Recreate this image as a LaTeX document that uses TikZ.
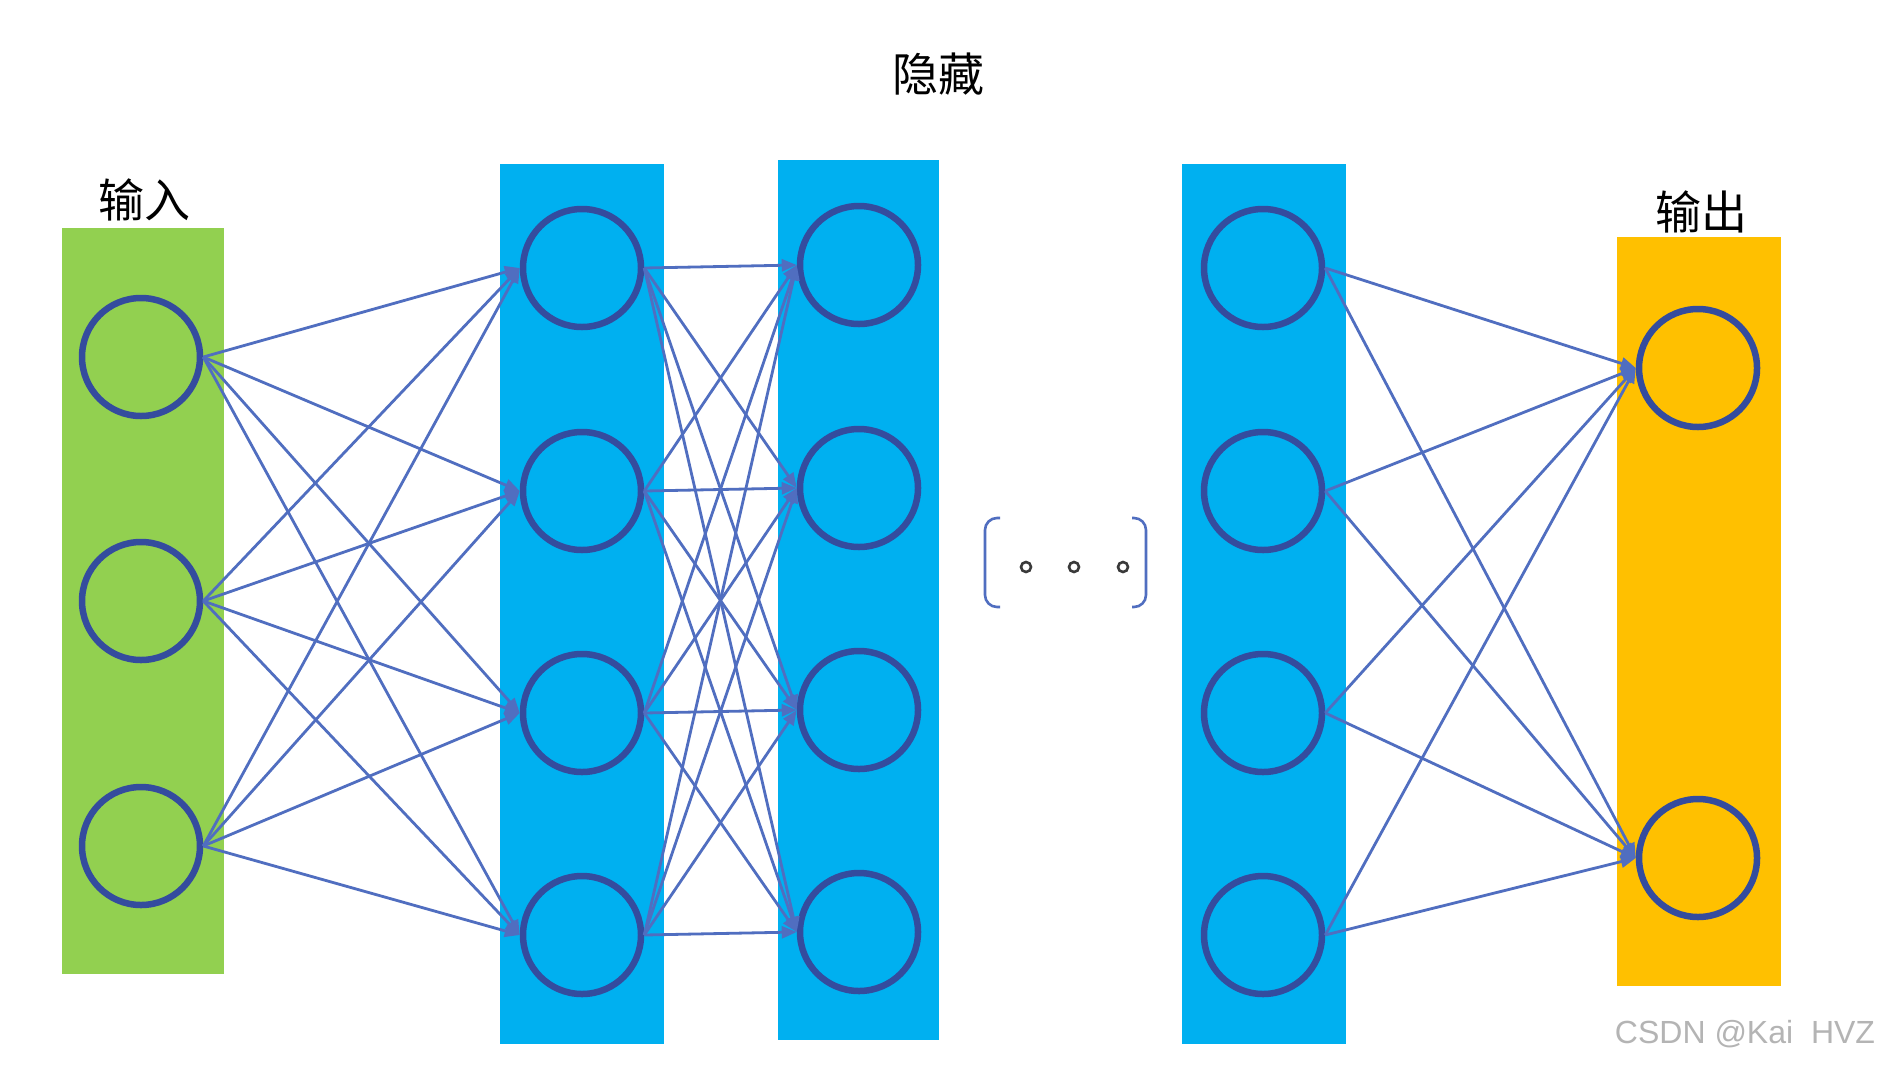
\documentclass[tikz,border=0pt]{standalone}
\usepackage{fontspec}
\setmainfont{Liberation Sans}
\newfontfamily\cjk{Noto Sans CJK SC}
\usetikzlibrary{arrows.meta}
\definecolor{ingreen}{HTML}{92D050}
\definecolor{hidblue}{HTML}{00B0F0}
\definecolor{outorange}{HTML}{FFC000}
\definecolor{ringc}{HTML}{344C9E}
\definecolor{edgec}{HTML}{506EC0}
\definecolor{dotc}{HTML}{3A3A3A}
\definecolor{markc}{HTML}{B4B4B4}
\begin{document}
\begin{tikzpicture}[x=1pt,y=-1pt,
  column/.style={rectangle, draw=none, inner sep=0pt, minimum width=#1},
  neuron/.style={circle, draw=ringc, line width=6.5pt, minimum size=118pt, inner sep=0pt},
  conn/.style={draw=edgec, line width=2.8pt, -{Triangle[length=15pt,width=12pt]}},
  title/.style={font=\cjk\fontsize{46}{50}\selectfont, text=black, inner sep=0pt},
  smalldot/.style={circle, draw=dotc, line width=2.6pt, minimum size=10pt, inner sep=0pt},
  bracketc/.style={draw=edgec, line width=2.6pt, rounded corners=12pt}
]
\useasboundingbox (0,0) rectangle (1886,1066);
\fill[white] (0,0) rectangle (1886,1066);

% columns
\node[column=162pt, minimum height=746pt, fill=ingreen] (colin) at (143,601) {};
\node[column=164pt, minimum height=880pt, fill=hidblue] (colh1) at (582,604) {};
\node[column=161pt, minimum height=880pt, fill=hidblue] (colh2) at (858.5,600) {};
\node[column=164pt, minimum height=880pt, fill=hidblue] (colh3) at (1264,604) {};
\node[column=164pt, minimum height=749pt, fill=outorange] (colout) at (1699,611.5) {};

% titles
\node[title] (tin) at (144,200) {输入};
\node[title] (thid) at (938,74) {隐藏};
\node[title] (tout) at (1701,212) {输出};

% neurons
\foreach \y [count=\i] in {357,601,846} \node[neuron] (i\i) at (141,\y) {};
\foreach \y [count=\i] in {268,491,713,935} \node[neuron] (a\i) at (582,\y) {};
\foreach \y [count=\i] in {265,488,710,932} \node[neuron] (b\i) at (859,\y) {};
\foreach \y [count=\i] in {268,491,713,935} \node[neuron] (c\i) at (1263,\y) {};
\foreach \y [count=\i] in {368,858} \node[neuron] (o\i) at (1698,\y) {};

% connectors
\foreach \i in {1,2,3} \foreach \j in {1,2,3,4} \draw[conn] (i\i.east) -- (a\j.west);
\foreach \i in {1,2,3,4} \foreach \j in {1,2,3,4} \draw[conn] (a\i.east) -- (b\j.west);
\foreach \i in {1,2,3,4} \foreach \j in {1,2} \draw[conn] (c\i.east) -- (o\j.west);

% ellipsis with brackets
\node[smalldot] (d1) at (1026,567) {};
\node[smalldot] (d2) at (1074,567) {};
\node[smalldot] (d3) at (1123,567) {};
\draw[bracketc] (1000,518) -- (985,518) -- (985,607) -- (1000,607);
\draw[bracketc] (1132,518) -- (1146,518) -- (1146,607) -- (1132,607);

% watermark
\node[text=markc, font=\fontsize{32}{34}\selectfont, inner sep=0pt] (mark) at (1745,1034) {CSDN @Kai\ \ HVZ};
\end{tikzpicture}
\end{document}
